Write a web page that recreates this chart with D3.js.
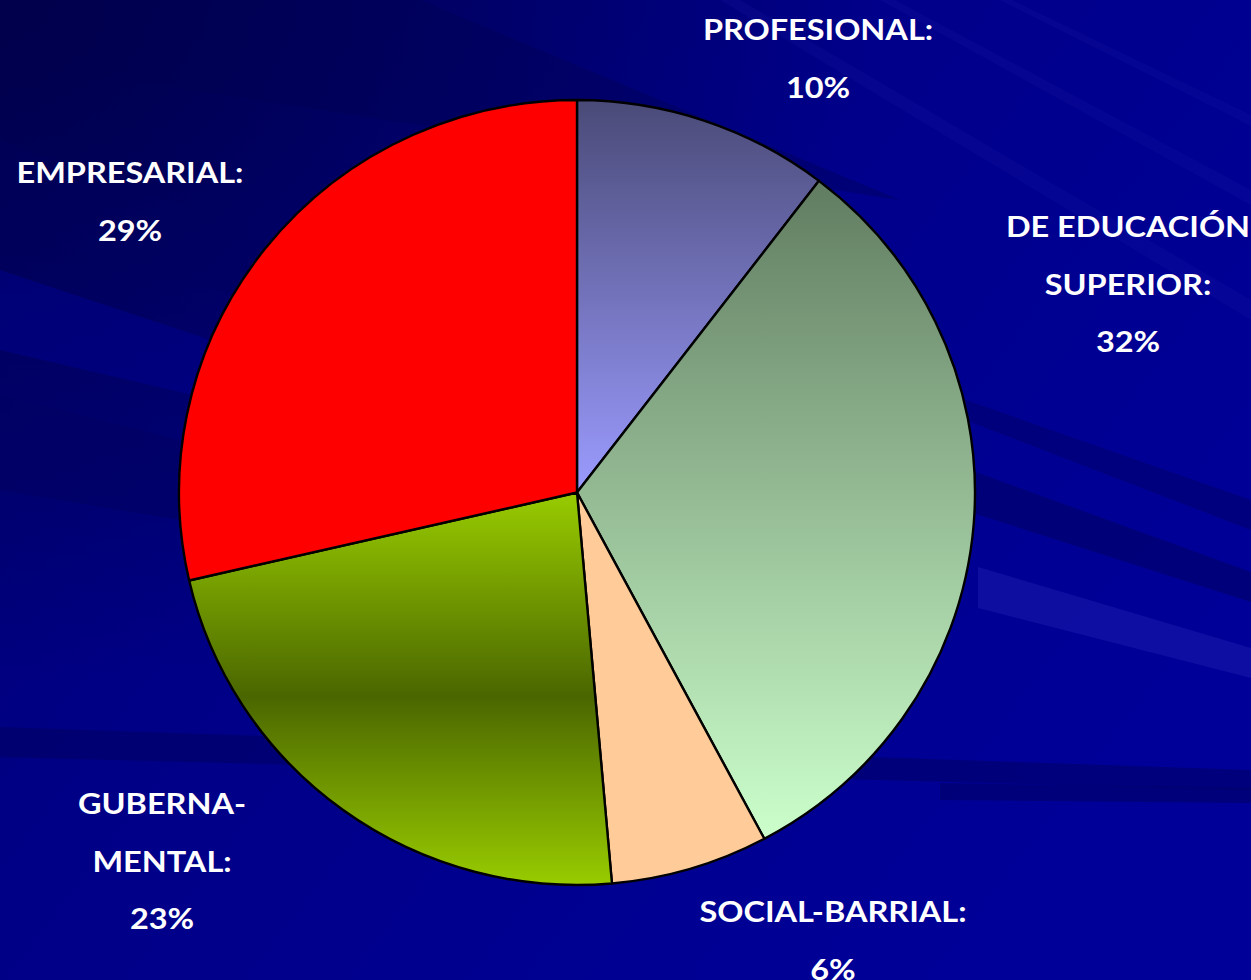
<!DOCTYPE html>
<html>
<head>
<meta charset="utf-8">
<script src="https://cdn.jsdelivr.net/npm/d3@7"></script>
<style>
  html, body { margin: 0; padding: 0; background: #000090; }
  svg { display: block; }
</style>
</head>
<body>
<svg id="chart"></svg>
<script>
// ---- data ----
const categories = ["PROFESIONAL", "DE EDUCACIÓN SUPERIOR", "SOCIAL-BARRIAL", "GUBERNAMENTAL", "EMPRESARIAL"];
const values = [10.4, 31.8, 6.4, 22.8, 28.6];
const labelLines = [["PROFESIONAL:"], ["DE EDUCACIÓN", "SUPERIOR:"], ["SOCIAL-BARRIAL:"], ["GUBERNA-", "MENTAL:"], ["EMPRESARIAL:"]];

const W = 1251, H = 980;
const CX = 577, CY = 492.5, R = 398, SY = 392.5 / 398;

// label anchors (centre x, first baseline) — placed by hand on the slide
const labelAt = [[818, 40], [1128, 237], [833, 922], [162, 814], [130, 183]];
const LINE = 57.5;

const svg = d3.select('#chart').attr('width', W).attr('height', H);
const defs = svg.append('defs');

// ---- background: dark blue streaks ----
const bg = defs.append('linearGradient').attr('id', 'bg').attr('x1', 0).attr('y1', 0).attr('x2', 1).attr('y2', 0.6);
bg.append('stop').attr('offset', '0%').attr('stop-color', '#000070');
bg.append('stop').attr('offset', '40%').attr('stop-color', '#000086');
bg.append('stop').attr('offset', '100%').attr('stop-color', '#000098');
svg.append('rect').attr('width', W).attr('height', H).attr('fill', 'url(#bg)');

const corner = defs.append('radialGradient').attr('id', 'corner')
  .attr('cx', 0).attr('cy', 0).attr('r', 0.7);
corner.append('stop').attr('offset', '0%').attr('stop-color', '#000040').attr('stop-opacity', 0.8);
corner.append('stop').attr('offset', '100%').attr('stop-color', '#000040').attr('stop-opacity', 0);
svg.append('rect').attr('width', W).attr('height', H).attr('fill', 'url(#corner)');

const streaks = [
  { p: [[0, 0], [420, 0], [900, 200], [0, 60]], c: '#000050', o: 0.35 },
  { p: [[0, 140], [0, 230], [650, 410], [650, 375]], c: '#000060', o: 0.3 },
  { p: [[0, 270], [0, 350], [300, 420], [300, 370]], c: '#00009a', o: 0.4 },
  // left bands
  { p: [[0, 395], [0, 490], [300, 540], [300, 470]], c: '#000062', o: 0.55 },
  { p: [[0, 727], [0, 757], [1251, 790], [1251, 770]], c: '#00005c', o: 0.45 },
  // right side
  { p: [[960, 398], [960, 418], [1251, 530], [1251, 500]], c: '#000070', o: 0.6 },
  { p: [[970, 470], [970, 512], [1251, 602], [1251, 572]], c: '#000068', o: 0.6 },
  { p: [[978, 567], [978, 608], [1251, 678], [1251, 648]], c: '#2424b4', o: 0.4 },
  { p: [[940, 783], [940, 800], [1251, 803], [1251, 788]], c: '#000068', o: 0.6 },
  // faint light streaks top right
  { p: [[720, 0], [740, 0], [1251, 300], [1251, 320]], c: '#2020b0', o: 0.15 },
  { p: [[880, 0], [895, 0], [1251, 190], [1251, 205]], c: '#2020b0', o: 0.15 },
  { p: [[1000, 0], [1012, 0], [1251, 115], [1251, 126]], c: '#2020b0', o: 0.15 }
];
svg.append('g').selectAll('path').data(streaks).join('path')
  .attr('d', d => d3.line()(d.p) + 'Z')
  .attr('fill', d => d.c).attr('fill-opacity', d => d.o);

// ---- slice fills ----
function vgrad(id, stops) {
  const g = defs.append('linearGradient').attr('id', id)
    .attr('x1', 0).attr('y1', 0).attr('x2', 0).attr('y2', 1);
  stops.forEach(s => g.append('stop').attr('offset', s[0]).attr('stop-color', s[1]));
  return `url(#${id})`;
}
const fills = [
  vgrad('g-prof', [['0%', '#4a4a78'], ['100%', '#9b9bff']]),
  vgrad('g-edu', [['0%', '#617c61'], ['100%', '#ccffcc']]),
  '#ffcc99',
  vgrad('g-gub', [['0%', '#99cc00'], ['52%', '#4a6600'], ['100%', '#99cc00']]),
  '#ff0000'
];

const pie = d3.pie().sort(null).value(d => d)(values);
const arc = d3.arc().innerRadius(0).outerRadius(R);

const gPie = svg.append('g').attr('transform', `translate(${CX},${CY}) scale(1,${SY})`);
gPie.selectAll('path').data(pie).join('path')
  .attr('d', arc)
  .attr('fill', (d, i) => fills[i])
  .attr('stroke', '#000').attr('stroke-width', 2.4)
  .attr('stroke-linejoin', 'round')
  .attr('vector-effect', 'non-scaling-stroke');

// ---- labels ----
const total = d3.sum(values);
const gLab = svg.append('g')
  .attr('font-family', 'Lato, "Open Sans", sans-serif')
  .attr('font-weight', 700).attr('font-size', 29.5)
  .attr('fill', '#ffffff').attr('text-anchor', 'middle');

categories.forEach((c, i) => {
  const lines = labelLines[i].concat([Math.round(values[i] / total * 100) + '%']);
  const [x, y] = labelAt[i];
  lines.forEach((t, k) => {
    gLab.append('text')
      .attr('transform', `translate(${x},${y + k * LINE}) scale(1.1,1)`)
      .text(t);
  });
});
</script>
</body>
</html>
